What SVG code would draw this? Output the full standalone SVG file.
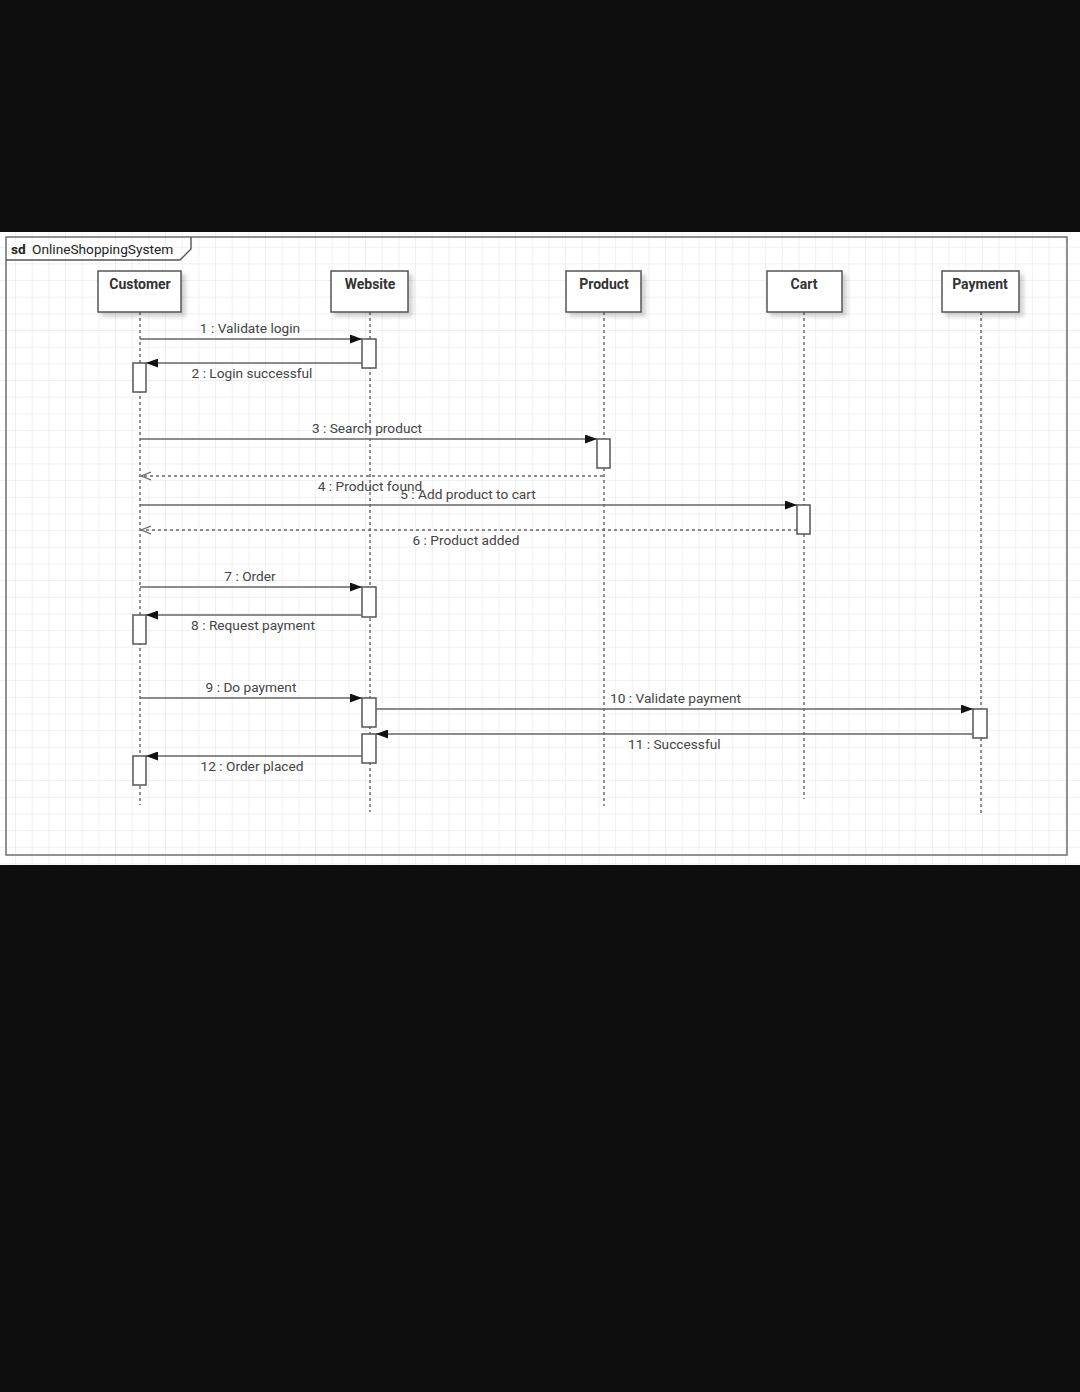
<svg xmlns="http://www.w3.org/2000/svg" width="1080" height="1392" viewBox="0 0 1080 1392">
  <defs>
    <pattern id="grid" x="15" y="13.3" width="16.67" height="16.67" patternUnits="userSpaceOnUse">
      <path d="M0,0 H16.67 M0,0 V16.67" fill="none" stroke="#e1e1e1" stroke-width="1"/>
    </pattern>
    <filter id="shadow" x="-20%" y="-20%" width="150%" height="150%">
      <feGaussianBlur in="SourceAlpha" stdDeviation="2"/>
      <feOffset dx="4" dy="4" result="b"/>
      <feComponentTransfer><feFuncA type="linear" slope="0.18"/></feComponentTransfer>
      <feMerge><feMergeNode/><feMergeNode in="SourceGraphic"/></feMerge>
    </filter>
    <marker id="filled" markerUnits="userSpaceOnUse" markerWidth="13" markerHeight="9" refX="12" refY="4.5" orient="auto">
      <path d="M0,0 L12,4.5 L0,9 z" fill="#111"/>
    </marker>
    <marker id="open" markerUnits="userSpaceOnUse" markerWidth="12" markerHeight="10" refX="10" refY="5" orient="auto">
      <path d="M0,1 L10,5 L0,9" fill="none" stroke="#666" stroke-width="1.2"/>
    </marker>
  </defs>
  <style>
    .lbl { font-family: Roboto, "Liberation Sans", sans-serif; font-size: 13.7px; fill: #444; }
    .head { font-family: Roboto, "Liberation Sans", sans-serif; font-size: 14px; font-weight: bold; fill: #333; text-anchor: middle; }
    .box { fill: #fff; stroke: #555; stroke-width: 1.5; }
    .act { fill: #fff; stroke: #555; stroke-width: 1.5; }
    .life { stroke: #222; stroke-width: 1; stroke-dasharray: 3 3; fill: none; }
    .msg { stroke: #666; stroke-width: 1.6; fill: none; marker-end: url(#filled); }
    .ret { stroke: #666; stroke-width: 1.3; stroke-dasharray: 3 3; fill: none; marker-end: url(#open); }
  </style>

  <!-- page background -->
  <rect x="0" y="0" width="1080" height="1392" fill="#0e0e0e"/>
  <rect x="0" y="232" width="1080" height="633" fill="#fff"/>
  <rect x="0" y="232" width="1080" height="633" fill="url(#grid)"/>

  <!-- sequence frame -->
  <g id="frame">
    <rect x="6" y="237" width="1061" height="618" fill="none" stroke="#777" stroke-width="1.6"/>
    <path d="M6,260 H180 L191,249 V237" fill="none" stroke="#555" stroke-width="1.4"/>
    <text x="11" y="254" class="lbl" style="fill:#222"><tspan font-weight="bold">sd</tspan><tspan x="32">OnlineShoppingSystem</tspan></text>
  </g>

  <!-- lifelines -->
  <g id="customer">
    <line class="life" x1="140" y1="312" x2="140" y2="805"/>
    <rect class="box" x="98" y="271" width="83" height="41" filter="url(#shadow)"/>
    <text class="head" x="140" y="289">Customer</text>
    <rect class="act" x="133" y="363" width="13" height="29"/>
    <rect class="act" x="133" y="615" width="13" height="29"/>
    <rect class="act" x="133" y="756" width="13" height="29"/>
  </g>
  <g id="website">
    <line class="life" x1="370" y1="312" x2="370" y2="812"/>
    <rect class="box" x="331" y="271" width="77" height="41" filter="url(#shadow)"/>
    <text class="head" x="370" y="289">Website</text>
    <rect class="act" x="362" y="339" width="14" height="29"/>
    <rect class="act" x="362" y="587" width="14" height="30"/>
    <rect class="act" x="362" y="698" width="14" height="29"/>
    <rect class="act" x="362" y="734" width="14" height="29"/>
  </g>
  <g id="product">
    <line class="life" x1="604" y1="312" x2="604" y2="806"/>
    <rect class="box" x="566" y="271" width="75" height="41" filter="url(#shadow)"/>
    <text class="head" x="604" y="289">Product</text>
    <rect class="act" x="597" y="439" width="13" height="29"/>
  </g>
  <g id="cart">
    <line class="life" x1="804" y1="312" x2="804" y2="799"/>
    <rect class="box" x="767" y="271" width="75" height="41" filter="url(#shadow)"/>
    <text class="head" x="804" y="289">Cart</text>
    <rect class="act" x="797" y="505" width="13" height="29"/>
  </g>
  <g id="payment">
    <line class="life" x1="981" y1="312" x2="981" y2="813"/>
    <rect class="box" x="942" y="271" width="77" height="41" filter="url(#shadow)"/>
    <text class="head" x="980" y="289">Payment</text>
    <rect class="act" x="973" y="709" width="14" height="29"/>
  </g>

  <!-- messages -->
  <g id="connectors">
    <line class="msg" x1="140" y1="339" x2="362" y2="339"/>
    <line class="msg" x1="362" y1="363" x2="146" y2="363"/>
    <line class="msg" x1="140" y1="439" x2="597" y2="439"/>
    <line class="ret" x1="603" y1="476" x2="141" y2="476"/>
    <line class="msg" x1="140" y1="505" x2="797" y2="505"/>
    <line class="ret" x1="797" y1="530" x2="141" y2="530"/>
    <line class="msg" x1="140" y1="587" x2="362" y2="587"/>
    <line class="msg" x1="362" y1="615" x2="146" y2="615"/>
    <line class="msg" x1="140" y1="698" x2="362" y2="698"/>
    <line class="msg" x1="376" y1="709" x2="973" y2="709"/>
    <line class="msg" x1="973" y1="734" x2="376" y2="734"/>
    <line class="msg" x1="362" y1="756" x2="146" y2="756"/>
  </g>

  <!-- message labels -->
  <g id="labels">
    <text class="lbl" x="250" y="333" text-anchor="middle">1 : Validate login</text>
    <text class="lbl" x="252" y="378" text-anchor="middle">2 : Login successful</text>
    <text class="lbl" x="367" y="433" text-anchor="middle">3 : Search product</text>
    <text class="lbl" x="370" y="491" text-anchor="middle">4 : Product found</text>
    <text class="lbl" x="468" y="499" text-anchor="middle">5 : Add product to cart</text>
    <text class="lbl" x="466" y="545" text-anchor="middle">6 : Product added</text>
    <text class="lbl" x="250" y="581" text-anchor="middle">7 : Order</text>
    <text class="lbl" x="253" y="630" text-anchor="middle">8 : Request payment</text>
    <text class="lbl" x="251" y="692" text-anchor="middle">9 : Do payment</text>
    <text class="lbl" x="610" y="703">10 : Validate payment</text>
    <text class="lbl" x="628" y="749">11 : Successful</text>
    <text class="lbl" x="252" y="771" text-anchor="middle">12 : Order placed</text>
  </g>
</svg>
